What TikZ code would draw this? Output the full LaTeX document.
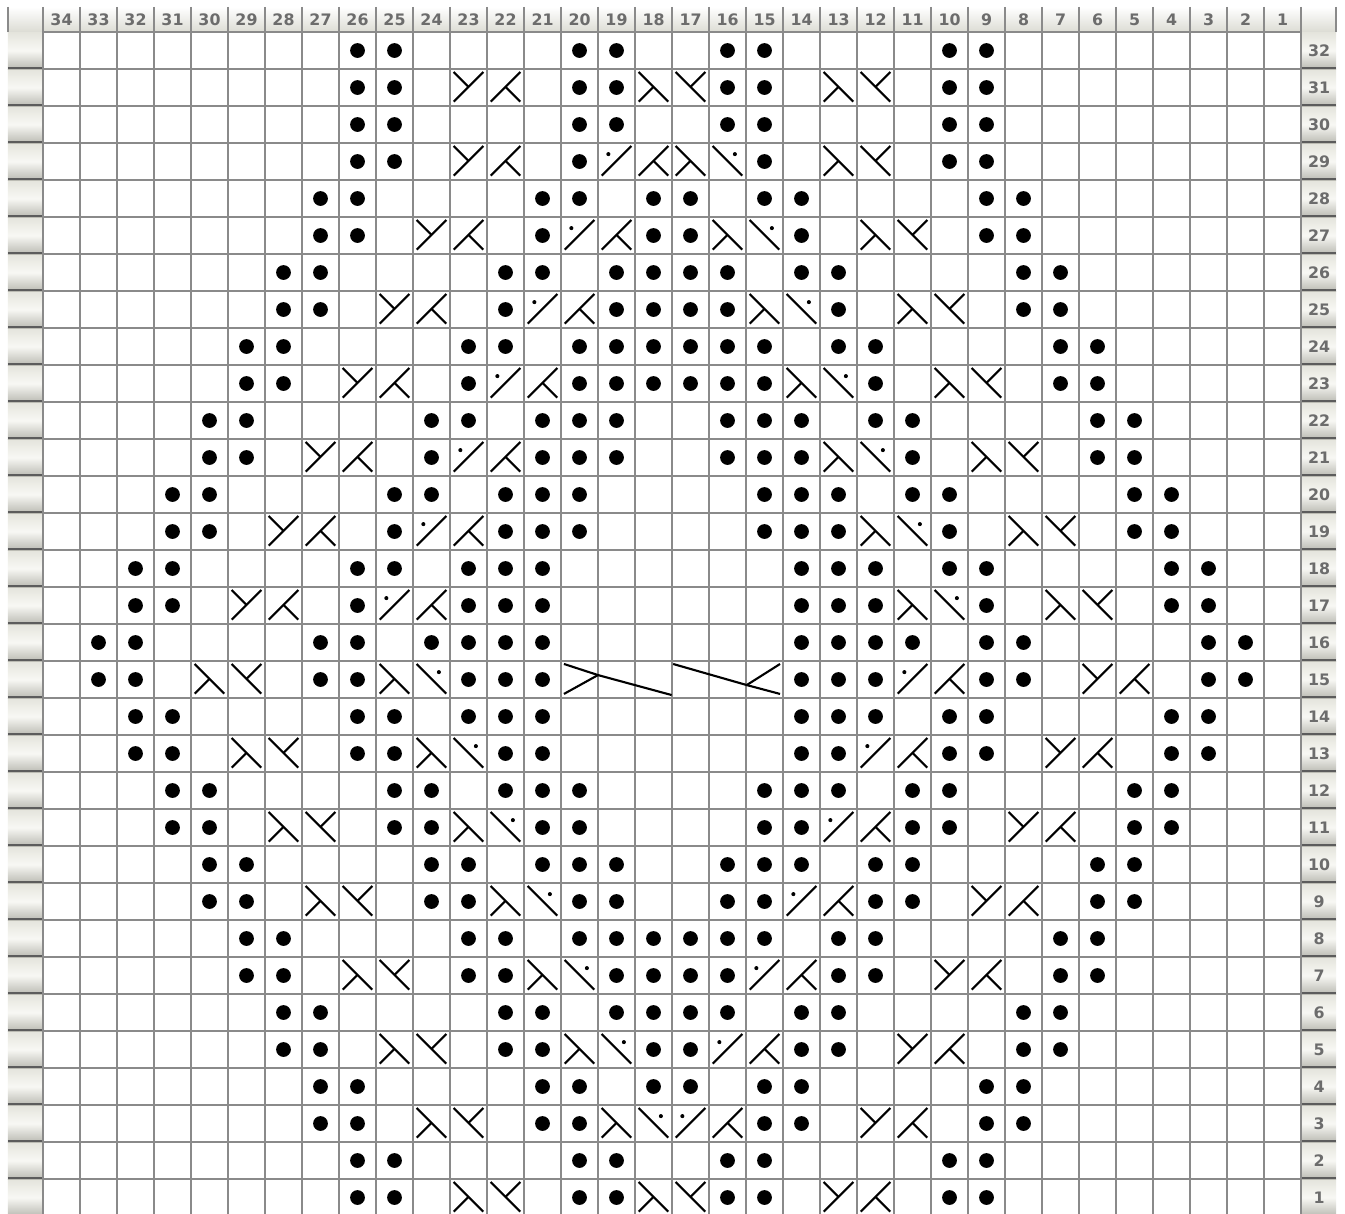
\documentclass[tikz,border=0pt]{standalone}
\usepackage{fontspec}
\setmainfont{DejaVu Sans}
\definecolor{gridgray}{HTML}{8A8A8A}
\definecolor{hdrtext}{HTML}{6C6C6C}
\definecolor{btntop}{HTML}{E4E4DC}
\definecolor{btnmid}{HTML}{F8F8F4}
\definecolor{btnbot}{HTML}{BBBBB3}
\definecolor{btnline}{HTML}{5C5C5C}
\definecolor{hdrbot}{HTML}{DCDCD4}
\tikzset{
  gridline/.style={draw=gridgray,line width=0.85pt},
  stitch/.style={draw=black,line width=1.2pt},
  numlbl/.style={text=hdrtext,font=\bfseries\fontsize{9}{10}\selectfont,inner sep=0pt,anchor=center},
  button/.style={top color=btntop,bottom color=btnbot,middle color=btnmid},
  symA/.pic={\draw[stitch] (-0.4,-0.38)--(0.4,0.42); \draw[stitch] (-0.4,0.42)--(0,0.02);},
  symB/.pic={\draw[stitch] (-0.4,-0.38)--(0.4,0.42); \draw[stitch] (0,0.02)--(0.4,-0.38);},
  symC/.pic={\draw[stitch] (-0.4,0.42)--(0.4,-0.38); \draw[stitch] (0,0.02)--(-0.4,-0.38);},
  symD/.pic={\draw[stitch] (-0.4,0.42)--(0.4,-0.38); \draw[stitch] (0,0.02)--(0.4,0.42);},
  symE/.pic={\draw[stitch] (-0.4,-0.38)--(0.4,0.42); \fill (-0.22,0.2) circle (0.055);},
  symF/.pic={\draw[stitch] (-0.4,0.42)--(0.4,-0.38); \fill (0.2,0.2) circle (0.055);}
}
\begin{document}
\begin{tikzpicture}[x=0.74cm,y=0.74cm]
\fill[white] (-1.1622,0.8649) rectangle (35.1892,-31.9459);
\useasboundingbox (-1.1622,0.8649) rectangle (35.1892,-31.9459);
% header bar
\shade[top color=white,bottom color=hdrbot] (-0.946,0.676) rectangle (34.946,0);
\draw[gridgray,line width=0.6pt] (-0.946,0.676) -- (-0.946,0);
\draw[gridgray,line width=0.6pt] (34.946,0.676) -- (34.946,0);
% grid background
\fill[white] (0,0) rectangle (34,-32);
% left and right buttons
\foreach \r in {1,...,32}{
  \shade[button] (-0.946,{\r-32}) rectangle (0,{\r-33});
  \draw[btnline,line width=1.3pt] (-0.946,{\r-33+0.035}) -- (0,{\r-33+0.035});
  \shade[button] (34,{\r-32}) rectangle (34.946,{\r-33});
  \draw[btnline,line width=1.3pt] (34,{\r-33+0.035}) -- (34.946,{\r-33+0.035});
  \node[numlbl] (r\r) at (34.49,{\r-32.5}) {\r};
}
% grid lines
\foreach \i in {0,...,34} \draw[gridline] (\i,0.676) -- (\i,-32);
\foreach \j in {0,...,32} \draw[gridline] (0,-\j) -- (34,-\j);
% column labels
\foreach \c in {1,...,34} \node[numlbl] (h\c) at ({34.5-\c},0.33) {\c};
% purl dots
\foreach \r/\cs in {
 32/{26,25,20,19,16,15,10,9},
 31/{26,25,20,19,16,15,10,9},
 30/{26,25,20,19,16,15,10,9},
 29/{26,25,20,15,10,9},
 28/{27,26,21,20,18,17,15,14,9,8},
 27/{27,26,21,18,17,14,9,8},
 26/{28,27,22,21,19,18,17,16,14,13,8,7},
 25/{28,27,22,19,18,17,16,13,8,7},
 24/{29,28,23,22,20,19,18,17,16,15,13,12,7,6},
 23/{29,28,23,20,19,18,17,16,15,12,7,6},
 22/{30,29,24,23,21,20,19,16,15,14,12,11,6,5},
 21/{30,29,24,21,20,19,16,15,14,11,6,5},
 20/{31,30,25,24,22,21,20,15,14,13,11,10,5,4},
 19/{31,30,25,22,21,20,15,14,13,10,5,4},
 18/{32,31,26,25,23,22,21,14,13,12,10,9,4,3},
 17/{32,31,26,23,22,21,14,13,12,9,4,3},
 16/{33,32,27,26,24,23,22,21,14,13,12,11,9,8,3,2},
 15/{33,32,27,26,23,22,21,14,13,12,9,8,3,2},
 14/{32,31,26,25,23,22,21,14,13,12,10,9,4,3},
 13/{32,31,26,25,22,21,14,13,10,9,4,3},
 12/{31,30,25,24,22,21,20,15,14,13,11,10,5,4},
 11/{31,30,25,24,21,20,15,14,11,10,5,4},
 10/{30,29,24,23,21,20,19,16,15,14,12,11,6,5},
 9/{30,29,24,23,20,19,16,15,12,11,6,5},
 8/{29,28,23,22,20,19,18,17,16,15,13,12,7,6},
 7/{29,28,23,22,19,18,17,16,13,12,7,6},
 6/{28,27,22,21,19,18,17,16,14,13,8,7},
 5/{28,27,22,21,18,17,14,13,8,7},
 4/{27,26,21,20,18,17,15,14,9,8},
 3/{27,26,21,20,15,14,9,8},
 2/{26,25,20,19,16,15,10,9},
 1/{26,25,20,19,16,15,10,9}}
 {\foreach \c in \cs {\fill ({34.5-\c},{\r-32.5}) circle (0.2);}}
% cable symbols
\foreach \c/\r in {23/31,23/29,24/27,25/25,26/23,27/21,28/19,29/17,6/15,7/13,8/11,9/9,10/7,11/5,12/3,13/1}
  \pic at ({34.5-\c},{\r-32.5}) {symA};
\foreach \c/\r in {22/31,22/29,18/29,23/27,19/27,24/25,20/25,25/23,21/23,26/21,22/21,27/19,23/19,28/17,24/17,10/15,5/15,11/13,6/13,12/11,7/11,13/9,8/9,14/7,9/7,15/5,10/5,16/3,11/3,12/1}
  \pic at ({34.5-\c},{\r-32.5}) {symB};
\foreach \c/\r in {18/31,13/31,17/29,13/29,16/27,12/27,15/25,11/25,14/23,10/23,13/21,9/21,12/19,8/19,11/17,7/17,30/15,25/15,29/13,24/13,28/11,23/11,27/9,22/9,26/7,21/7,25/5,20/5,24/3,19/3,23/1,18/1}
  \pic at ({34.5-\c},{\r-32.5}) {symC};
\foreach \c/\r in {17/31,12/31,12/29,11/27,10/25,9/23,8/21,7/19,6/17,29/15,28/13,27/11,26/9,25/7,24/5,23/3,22/1,17/1}
  \pic at ({34.5-\c},{\r-32.5}) {symD};
\foreach \c/\r in {19/29,20/27,21/25,22/23,23/21,24/19,25/17,11/15,12/13,13/11,14/9,15/7,16/5,17/3}
  \pic at ({34.5-\c},{\r-32.5}) {symE};
\foreach \c/\r in {16/29,15/27,14/25,13/23,12/21,11/19,10/17,24/15,23/13,22/11,21/9,20/7,19/5,18/3}
  \pic at ({34.5-\c},{\r-32.5}) {symF};
% big 3/3 cable in row 15, columns 20-15
\begin{scope}[shift={(14,-17)}]
  \draw[stitch] (0.08,-0.08) -- (1.0,-0.38) -- (2.99,-0.92);
  \draw[stitch] (0.08,-0.89) -- (1.0,-0.38);
  \draw[stitch] (3.03,-0.08) -- (5.02,-0.65) -- (5.92,-0.08);
  \draw[stitch] (5.02,-0.65) -- (5.92,-0.89);
\end{scope}
\end{tikzpicture}
\end{document}
